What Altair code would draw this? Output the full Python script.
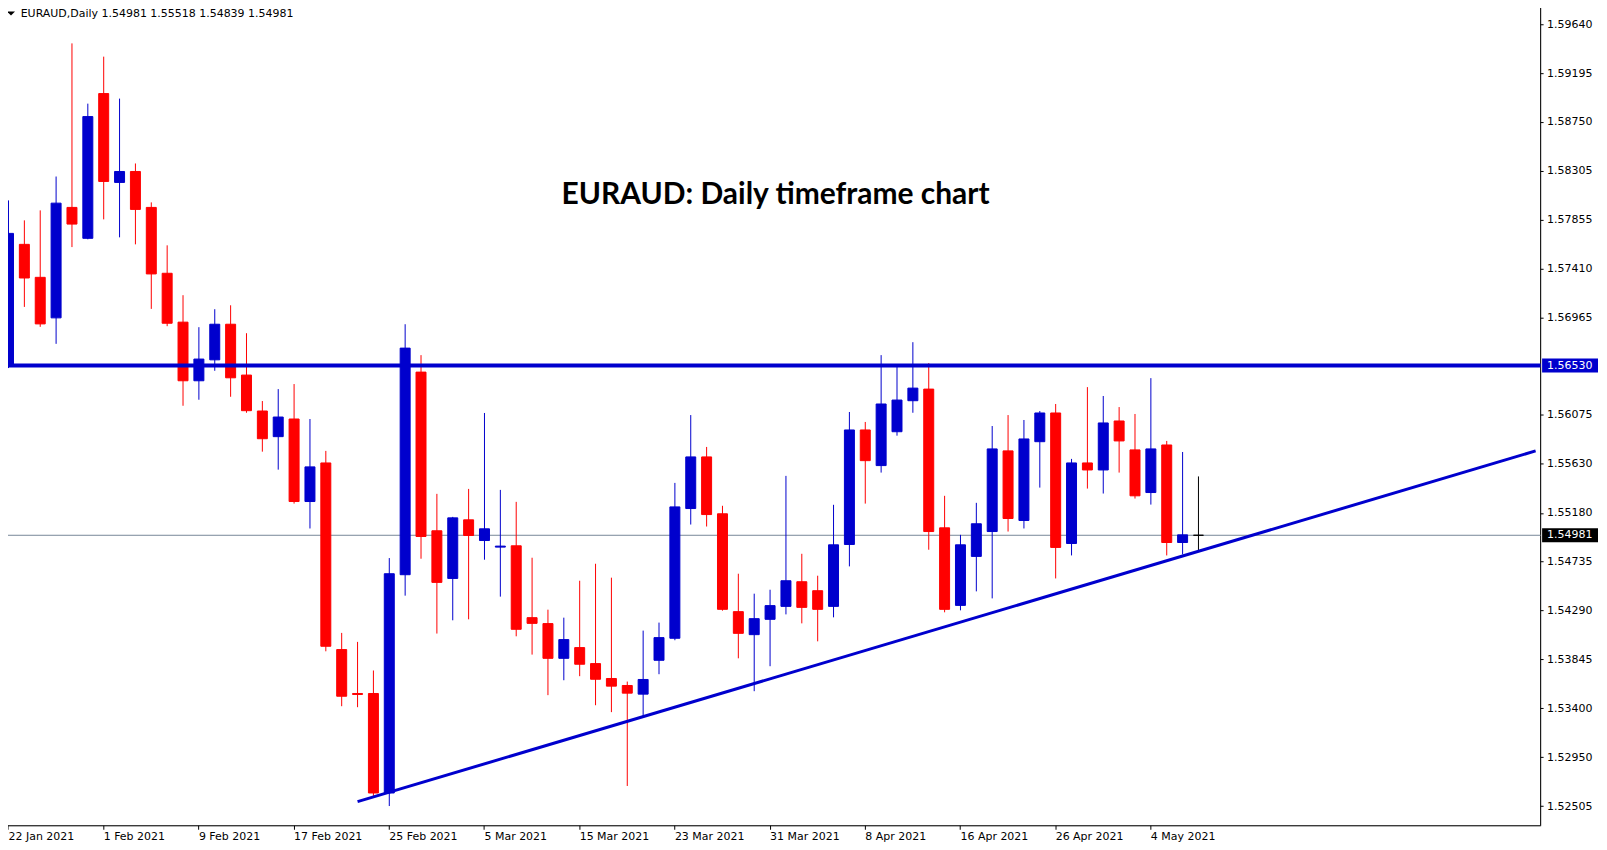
import altair as alt
import pandas as pd

# ---------------- data ----------------
tick_index = [0, 6, 12, 18, 24, 30, 36, 42, 48, 54, 60, 66, 72]
tick_labels = ["22 Jan 2021", "1 Feb 2021", "9 Feb 2021", "17 Feb 2021", "25 Feb 2021",
               "5 Mar 2021", "15 Mar 2021", "23 Mar 2021", "31 Mar 2021", "8 Apr 2021",
               "16 Apr 2021", "26 Apr 2021", "4 May 2021"]

opens = [1.56525, 1.57636, 1.57335, 1.56965, 1.57973, 1.57691, 1.59012, 1.58201, 1.58301, 1.57973,
         1.57372, 1.56926, 1.56391, 1.56582, 1.56907, 1.56443, 1.56115, 1.55881, 1.56042, 1.55289,
         1.55641, 1.53938, 1.53537, 1.53537, 1.52629, 1.54621, 1.56470, 1.55022, 1.54587, 1.55122,
         1.54933, 1.54873, 1.54885, 1.54229, 1.54175, 1.53858, 1.53956, 1.53810, 1.53674, 1.53610,
         1.53531, 1.53840, 1.54041, 1.55225, 1.55696, 1.55177, 1.54284, 1.54074, 1.54214, 1.54332,
         1.54557, 1.54475, 1.54332, 1.54897, 1.55942, 1.55617, 1.55926, 1.56209, 1.56315, 1.55049,
         1.54341, 1.54788, 1.55015, 1.55751, 1.55116, 1.55835, 1.56097, 1.54906, 1.55641, 1.55577,
         1.56024, 1.55760, 1.55371, 1.55805, 1.54915, 1.54981]
highs = [1.58037, 1.57855, 1.57946, 1.58255, 1.59470, 1.58920, 1.59349, 1.58966, 1.58374, 1.58019,
         1.57627, 1.57172, 1.56880, 1.57044, 1.57080, 1.56825, 1.56206, 1.56315, 1.56361, 1.56042,
         1.55751, 1.54090, 1.54008, 1.53747, 1.54773, 1.56907, 1.56625, 1.55359, 1.55149, 1.55404,
         1.56097, 1.55395, 1.55286, 1.54776, 1.54302, 1.54229, 1.54566, 1.54721, 1.54594, 1.53646,
         1.54111, 1.54184, 1.55459, 1.56078, 1.55787, 1.55250, 1.54630, 1.54448, 1.54484, 1.55523,
         1.54812, 1.54612, 1.55259, 1.56106, 1.56015, 1.56625, 1.56543, 1.56743, 1.56552, 1.55341,
         1.54985, 1.55277, 1.55978, 1.56078, 1.56033, 1.56115, 1.56179, 1.55678, 1.56333, 1.56252,
         1.56151, 1.56088, 1.56415, 1.55842, 1.55741, 1.55518]
lows = [1.56507, 1.57065, 1.56883, 1.56728, 1.57611, 1.57682, 1.57864, 1.57700, 1.57636, 1.57047,
        1.56889, 1.56163, 1.56218, 1.56482, 1.56245, 1.56099, 1.55744, 1.55580, 1.55270, 1.55043,
        1.53922, 1.53421, 1.53412, 1.52602, 1.52510, 1.54430, 1.54767, 1.54084, 1.54205, 1.54214,
        1.54758, 1.54421, 1.54059, 1.53892, 1.53522, 1.53658, 1.53695, 1.53430, 1.53367, 1.52693,
        1.53330, 1.53713, 1.54023, 1.55079, 1.55061, 1.54293, 1.53858, 1.53558, 1.53786, 1.54259,
        1.54177, 1.54013, 1.54232, 1.54697, 1.55270, 1.55553, 1.55890, 1.56099, 1.54849, 1.54278,
        1.54296, 1.54469, 1.54405, 1.55015, 1.55043, 1.55416, 1.54587, 1.54797, 1.55407, 1.55362,
        1.55553, 1.55316, 1.55261, 1.54797, 1.54806, 1.54839]
closes = [1.57736, 1.57329, 1.56910, 1.58012, 1.57821, 1.58802, 1.58210, 1.58301, 1.57955, 1.57366,
          1.56916, 1.56391, 1.56589, 1.56907, 1.56418, 1.56118, 1.55862, 1.56060, 1.55289, 1.55605,
          1.53968, 1.53512, 1.53528, 1.52629, 1.54630, 1.56689, 1.54970, 1.54551, 1.55140, 1.54979,
          1.55040, 1.54882, 1.54123, 1.54177, 1.53858, 1.54029, 1.53804, 1.53667, 1.53604, 1.53540,
          1.53665, 1.54047, 1.55240, 1.55696, 1.55170, 1.54305, 1.54086, 1.54220, 1.54339, 1.54566,
          1.54323, 1.54305, 1.54894, 1.55942, 1.55662, 1.56179, 1.56215, 1.56324, 1.55015, 1.54305,
          1.54894, 1.55086, 1.55769, 1.55134, 1.55860, 1.56097, 1.54870, 1.55641, 1.55577, 1.56006,
          1.55842, 1.55341, 1.55769, 1.54915, 1.54985, 1.54981]

y_tick_values = [1.52505, 1.52950, 1.53400, 1.53845, 1.54290, 1.54735, 1.55180, 1.55630,
                 1.56075, 1.56965, 1.57410, 1.57855, 1.58305, 1.58750, 1.59195, 1.59640]

resistance_price = 1.56530
last_price = 1.54981
trend_index = [22, 96.25]
trend_price = [1.52550, 1.55751]

header_text = "EURAUD,Daily  1.54981 1.55518 1.54839 1.54981"
title_text = "EURAUD: Daily timeframe chart"

# ---------------- build tables ----------------
n = len(opens)
dirs = []
for o, c in zip(opens, closes):
    dirs.append("up" if c > o else ("down" if c < o else "flat"))
candles = pd.DataFrame({"i": list(range(n)), "open": opens, "high": highs,
                        "low": lows, "close": closes, "dir": dirs})

BLUE = "#0000CD"
RED = "#FF0000"
col_scale = alt.Scale(domain=["up", "down", "flat"], range=[BLUE, RED, "#000000"])

x_scale = alt.Scale(domain=[-0.03125, 96.25], nice=False, zero=False)
y_scale = alt.Scale(domain=[1.523301, 1.598313], nice=False, zero=False)

label_js = "[" + ",".join("'" + s + "'" for s in tick_labels) + "][round(datum.value/6)]"

x_axis = alt.Axis(values=tick_index, labelExpr=label_js, labelAlign="left", labelBaseline="top",
                  labelPadding=1, tickSize=4, labelFlush=2, labelFlushOffset=-5, grid=False,
                  title=None, domainColor="black", tickColor="black", labelColor="black",
                  labelFont="DejaVu Sans", labelFontSize=11, translate=0, labelOverlap=False)
y_axis = alt.Axis(orient="right", values=y_tick_values, format=".5f", tickSize=3, labelPadding=3.5,
                  grid=False, title=None, domainColor="black", tickColor="black",
                  labelColor="black", labelFont="DejaVu Sans", labelFontSize=11, translate=0,
                  labelOverlap=False, labelAlign="left", labelBaseline="middle")


def xenc(f):
    return alt.X(f, type="quantitative", scale=x_scale, axis=x_axis)


def yenc(f):
    return alt.Y(f, type="quantitative", scale=y_scale, axis=y_axis)


base = alt.Chart(candles)

wicks = base.mark_rule(strokeWidth=1).encode(
    x=xenc("i"), y=yenc("low"), y2="high",
    stroke=alt.Stroke("dir:N", scale=col_scale, legend=None))

bodies = base.mark_bar(width=10, strokeWidth=1).encode(
    x=xenc("i"), y=yenc("open"), y2="close",
    fill=alt.Fill("dir:N", scale=col_scale, legend=None),
    stroke=alt.Stroke("dir:N", scale=col_scale, legend=None))

bid = alt.Chart(pd.DataFrame({"p": [last_price]})).mark_rule(
    color="#778899", strokeWidth=1).encode(y=yenc("p"))

resist = alt.Chart(pd.DataFrame({"p": [resistance_price]})).mark_rule(
    color=BLUE, strokeWidth=4).encode(y=yenc("p"))

trend = alt.Chart(pd.DataFrame({"i": trend_index, "p": trend_price})).mark_line(
    color=BLUE, strokeWidth=3).encode(x=xenc("i"), y=yenc("p"))

lbl_df = pd.DataFrame({"p": [resistance_price, last_price],
                       "txt": ["%.5f" % resistance_price, "%.5f" % last_price],
                       "bg": [BLUE, "#000000"]})
boxes = alt.Chart(lbl_df).mark_rect(yOffset=-7, y2Offset=7).encode(
    x=alt.value(1542), x2=alt.value(1598), y=yenc("p"), y2="p",
    fill=alt.Fill("bg:N", scale=None))
box_txt = alt.Chart(lbl_df).mark_text(align="left", baseline="middle", font="DejaVu Sans",
                                      fontSize=11, color="white").encode(
    x=alt.value(1547), y=yenc("p"), text="txt:N")

header = alt.Chart(pd.DataFrame({"t": [header_text]})).mark_text(
    align="left", baseline="alphabetic", font="DejaVu Sans", fontSize=11, color="black").encode(
    x=alt.value(17.7), y=alt.value(13.7), text="t:N")

tri = alt.Chart(pd.DataFrame({"t": [1]})).mark_point(
    shape="M-1,-0.5L1,-0.5L0,0.5Z", filled=True, size=64, color="black", opacity=1).encode(
    x=alt.value(8), y=alt.value(9.8))

title = alt.Chart(pd.DataFrame({"t": [title_text]})).mark_text(
    align="center", baseline="alphabetic", font="Lato", fontWeight="bold", fontSize=30,
    color="black").encode(x=alt.value(774), y=alt.value(201), text="t:N")

chart = alt.layer(bid, wicks, bodies, resist, trend, boxes, box_txt, header, tri, title).properties(
    width=1540.5, height=823.5,
    autosize=alt.AutoSizeParams(type="none"),
    padding={"left": -5, "top": -5, "right": 58.5, "bottom": 15.5},
).configure_view(stroke=None).configure(background="white")

chart.save("out.html", embed_options={"renderer": "svg", "actions": False})
